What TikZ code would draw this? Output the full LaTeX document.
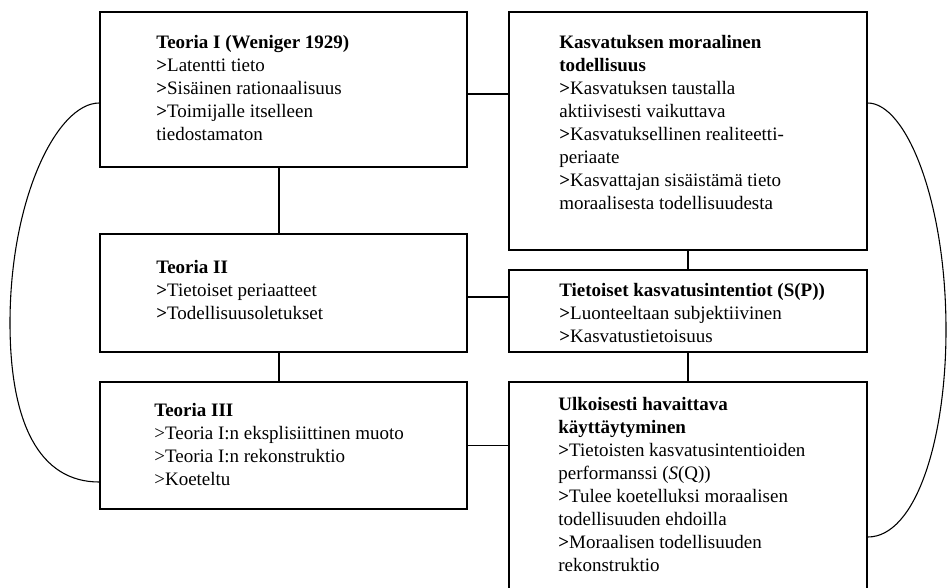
\documentclass[tikz,border=0pt]{standalone}
\usepackage{fontspec}
\setmainfont{Liberation Serif}
\newcommand{\gt}{\textbf{>}}
\newcommand{\firstline}{\rule{0pt}{10pt}}
\begin{document}
\begin{tikzpicture}[x=0.6pt,y=-0.6pt,
  box/.style={draw=black,line width=0.9pt,fill=white,inner sep=0pt,minimum width=#1},
  box/.default=220.2pt,
  txt/.style={anchor=north west,inner sep=0pt,align=left,
    font=\fontsize{11.4}{13.8}\selectfont},
  link/.style={line width=0.8pt},
  arc/.style={line width=0.65pt}]
\useasboundingbox (0,0) rectangle (948,587);
\fill[white] (0,0) rectangle (948,587);
\clip (0,0) rectangle (948,587);

% left column
\node[box,minimum height=93pt] (A) at (283.5,89.5) {};
\node[box,minimum height=70.8pt] (B) at (283.5,293) {};
\node[box,minimum height=76.2pt] (C) at (283.5,445.5) {};
% right column
\node[box=214.8pt,minimum height=142.8pt] (D) at (688,131) {};
\node[box=214.8pt,minimum height=49.2pt] (E) at (688,311) {};
\node[box=214.8pt,minimum height=130.8pt] (F) at (688,491) {};

% texts
\node[txt] (tA) at (156,31.3) {\firstline\textbf{Teoria I (Weniger 1929)}\\
  \gt Latentti tieto\\ \gt Sisäinen rationaalisuus\\ \gt Toimijalle itselleen\\ tiedostamaton};
\node[txt] (tB) at (156,256.3) {\firstline\textbf{Teoria II}\\
  \gt Tietoiset periaatteet\\ \gt Todellisuusoletukset};
\node[txt] (tC) at (154,399.3) {\firstline\textbf{Teoria III}\\
  >Teoria I:n eksplisiittinen muoto\\ >Teoria I:n rekonstruktio\\ >Koeteltu};
\node[txt] (tD) at (559,31.3) {\firstline\textbf{Kasvatuksen moraalinen}\\
  \textbf{todellisuus}\\ \gt Kasvatuksen taustalla\\ aktiivisesti vaikuttava\\
  \gt Kasvatuksellinen realiteetti-\\ periaate\\ \gt Kasvattajan sisäistämä tieto\\
  moraalisesta todellisuudesta};
\node[txt] (tE) at (559,279.3) {\firstline\textbf{Tietoiset kasvatusintentiot (S(P))}\\
  \gt Luonteeltaan subjektiivinen\\ \gt Kasvatustietoisuus};
\node[txt] (tF) at (558,393.3) {\firstline\textbf{Ulkoisesti havaittava}\\
  \textbf{käyttäytyminen}\\ \gt Tietoisten kasvatusintentioiden\\
  performanssi (\textit{S}(Q))\\ \gt Tulee koetelluksi moraalisen\\
  todellisuuden ehdoilla\\ \gt Moraalisen todellisuuden\\ rekonstruktio};

% straight links
\draw[link] ([xshift=-2.7pt]A.south) -- ([xshift=-2.7pt]B.north);
\draw[link] ([xshift=-2.7pt]B.south) -- ([xshift=-2.7pt]C.north);
\draw[link] (D.south) -- (E.north);
\draw[link] (E.south) -- (F.north);
\path (A.east) ++(0,4.5) coordinate (ad);
\draw[link] (ad) -- (ad -| D.west);
\path (B.east) ++(0,4) coordinate (be);
\draw[link] (be) -- (be -| E.west);
\draw[link] (C.east) -- (C.east -| F.west);

% curved arcs
\path (A.west) ++(0,13.5) coordinate (l1);
\path (C.west) ++(0,36.5) coordinate (l2);
\coordinate (lm) at (10,323);
\draw[arc] (l1) .. controls +(-42,0) and +(0,-125) .. (lm)
               .. controls +(0,100) and +(-60,0) .. (l2);
\path (D.east) ++(0,-28) coordinate (r1);
\path (F.east) ++(0,46) coordinate (r2);
\coordinate (rm) at (946,330);
\draw[arc] (r1) .. controls +(38,0) and +(0,-130) .. (rm)
               .. controls +(0,110) and +(48,0) .. (r2);
\end{tikzpicture}
\end{document}
